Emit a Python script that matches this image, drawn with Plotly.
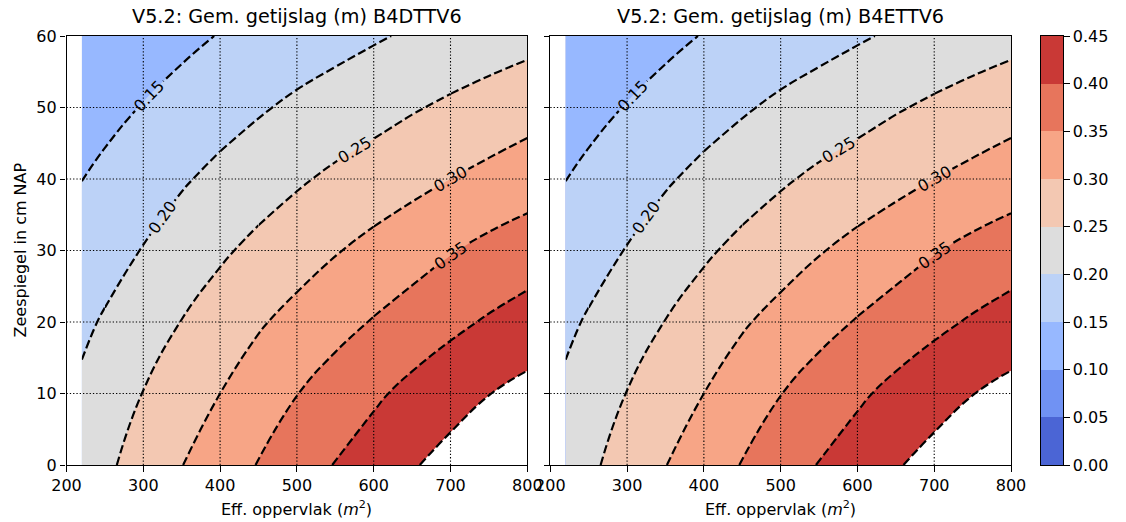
import plotly.graph_objects as go

# Grid: effective area (m^2) x sea level (cm NAP)
opp_vlak = [220, 250, 300, 350, 400, 450, 500, 550, 600, 650, 700, 750, 800]
zeespiegel = [0, 10, 20, 30, 40, 50, 60]

# Mean tidal range (m), one row per sea level
getijslag_b4dttv6 = [
    [0.222, 0.241, 0.270, 0.299, 0.326, 0.352, 0.377, 0.402, 0.424, 0.446, 0.466, 0.487, 0.507],
    [0.209, 0.225, 0.251, 0.275, 0.300, 0.325, 0.349, 0.372, 0.392, 0.413, 0.431, 0.449, 0.464],
    [0.190, 0.205, 0.228, 0.251, 0.273, 0.295, 0.315, 0.334, 0.353, 0.371, 0.389, 0.405, 0.420],
    [0.167, 0.180, 0.202, 0.223, 0.243, 0.262, 0.279, 0.297, 0.314, 0.330, 0.347, 0.363, 0.375],
    [0.1495, 0.160, 0.178, 0.195, 0.212, 0.228, 0.244, 0.259, 0.272, 0.286, 0.300, 0.313, 0.327],
    [0.127, 0.137, 0.152, 0.167, 0.181, 0.195, 0.209, 0.221, 0.233, 0.246, 0.258, 0.269, 0.280],
    [0.107, 0.114, 0.127, 0.139, 0.152, 0.162, 0.173, 0.184, 0.195, 0.206, 0.216, 0.226, 0.235],
]
getijslag_b4ettv6 = [row[:] for row in getijslag_b4dttv6]

titels = ["V5.2: Gem. getijslag (m) B4DTTV6", "V5.2: Gem. getijslag (m) B4ETTV6"]

# Contour levels 0.00 .. 0.45 step 0.05
lvl_start, lvl_end, lvl_step = 0.0, 0.45, 0.05
n_bands = 9
band_colors = ["#4b65d5", "#7092f3", "#97b8ff", "#bcd2f7", "#dddddd",
               "#f3c8b2", "#f7a586", "#e7755c", "#c93936"]

# Labelled levels and the stretch of the area axis on which each label sits
label_levels = [0.15, 0.20, 0.25, 0.30, 0.35]
label_span = {0.15: (220, 400), 0.20: (250, 400), 0.25: (450, 700),
              0.30: (600, 800), 0.35: (600, 800)}
plain_levels = [0.40, 0.45]

# Discrete colour scale: slot 0 = below 0, slots 1..9 = bands, slot 10 = above 0.45 (blank)
slots = [band_colors[0]] + band_colors + ["#ffffff"]
colorscale = []
for k, c in enumerate(slots):
    colorscale.append([max(0.0, (k - 0.5) / 10), c])
    colorscale.append([min(1.0, (k + 0.5) / 10), c])

FONT = "DejaVu Sans"
W, H = 1126, 522
FS = 16
FS_TITLE = 19.2
SMOOTH = 1.3
DASH = dict(color="black", width=2.2, dash="8.5px,3.6px", smoothing=SMOOTH)


def column_slice(z, i0, i1):
    return opp_vlak[i0:i1 + 1], [row[i0:i1 + 1] for row in z]


def level_line(fig, xs, z, level, xa, ya, labelled):
    fig.add_trace(go.Contour(
        x=xs, y=zeespiegel, z=z, xaxis=xa, yaxis=ya,
        showscale=False, hoverinfo="skip",
        contours=dict(start=level, end=level + 0.001, size=lvl_step, coloring="none",
                      showlabels=labelled, labelformat=".2f",
                      labelfont=dict(family=FONT, size=FS, color="black")),
        line=DASH,
    ))


fig = go.Figure()

panels = [("x", "y", getijslag_b4dttv6), ("x2", "y2", getijslag_b4ettv6)]
for xa, ya, z in panels:
    fig.add_trace(go.Contour(
        x=opp_vlak, y=zeespiegel, z=z, xaxis=xa, yaxis=ya,
        colorscale=colorscale, showscale=False, hoverinfo="skip",
        contours=dict(start=lvl_start, end=lvl_end, size=lvl_step,
                      coloring="fill", showlines=False),
        line=dict(width=0, smoothing=SMOOTH),
    ))
    last = len(opp_vlak) - 1
    for lev in label_levels:
        i0 = opp_vlak.index(label_span[lev][0])
        i1 = opp_vlak.index(label_span[lev][1])
        for a, b, lab in [(0, i0, False), (i0, i1, True), (i1, last, False)]:
            if b > a:
                xs, zs = column_slice(z, a, b)
                level_line(fig, xs, zs, lev, xa, ya, lab)
    for lev in plain_levels:
        level_line(fig, opp_vlak, z, lev, xa, ya, False)

# Colour bar drawn as a one-column heatmap of the bands
band_mid = [lvl_start + lvl_step * (i + 0.5) for i in range(n_bands)]
fig.add_trace(go.Heatmap(
    x=[0], y=band_mid, z=[[m] for m in band_mid], xaxis="x3", yaxis="y3",
    colorscale=colorscale, zmin=lvl_start - lvl_step / 2, zmax=lvl_end + lvl_step / 2,
    showscale=False, hoverinfo="skip",
))

ytop, ybot = 1 - 36 / H, 1 - 465 / H
xd1 = [66.5 / W, 527.3 / W]
xd2 = [550.3 / W, 1011.0 / W]
xd3 = [1041 / W, 1063 / W]

x_ticks = [200, 300, 400, 500, 600, 700, 800]
y_ticks = [0, 10, 20, 30, 40, 50, 60]
cb_ticks = [round(lvl_start + lvl_step * i, 2) for i in range(n_bands + 1)]

tickfont = dict(family=FONT, size=FS, color="black")
axis_common = dict(showline=True, mirror=True, linecolor="black", linewidth=1.2,
                   ticks="outside", ticklen=5.5, tickwidth=1.2, tickcolor="black",
                   showgrid=False, zeroline=False, tickfont=tickfont, automargin=False)

fig.update_layout(
    width=W, height=H, margin=dict(l=0, r=0, t=0, b=0),
    paper_bgcolor="white", plot_bgcolor="white", showlegend=False,
    font=dict(family=FONT, color="black"),
    xaxis=dict(domain=xd1, range=[200, 800], tickvals=x_ticks, anchor="y", **axis_common),
    yaxis=dict(domain=[ybot, ytop], range=[0, 60], tickvals=y_ticks, anchor="x", **axis_common),
    xaxis2=dict(domain=xd2, range=[200, 800], tickvals=x_ticks, anchor="y2", **axis_common),
    yaxis2=dict(domain=[ybot, ytop], range=[0, 60], tickvals=y_ticks, anchor="x2",
                showticklabels=False, **axis_common),
    xaxis3=dict(domain=xd3, range=[-0.5, 0.5], anchor="y3", showline=True, mirror=True,
                linecolor="black", linewidth=1.2, ticks="", showticklabels=False,
                showgrid=False, zeroline=False, automargin=False),
    yaxis3=dict(domain=[ybot, ytop], range=[lvl_start, lvl_end], anchor="x3", side="right",
                tickvals=cb_ticks, ticktext=[f"{v:.2f}" for v in cb_ticks], **axis_common),
)

# Dotted grid above the filled contours
grid_line = dict(color="black", width=1.1, dash="1.3px,2px")
shapes = []
for xa, ya in [("x", "y"), ("x2", "y2")]:
    for xv in x_ticks[1:-1]:
        shapes.append(dict(type="line", xref=xa, yref=f"{ya} domain", x0=xv, x1=xv, y0=0, y1=1,
                           line=grid_line, layer="above"))
    for yv in y_ticks[1:-1]:
        shapes.append(dict(type="line", xref=f"{xa} domain", yref=ya, x0=0, x1=1, y0=yv, y1=yv,
                           line=grid_line, layer="above"))
fig.update_layout(shapes=shapes)

# Panel titles and axis titles
for dom, titel in zip([xd1, xd2], titels):
    xc = (dom[0] + dom[1]) / 2
    fig.add_annotation(text=titel, xref="paper", yref="paper", x=xc,
                       y=1 - 16 / H, xanchor="center", yanchor="middle", showarrow=False,
                       font=dict(family=FONT, size=FS_TITLE, color="black"))
    fig.add_annotation(text="Eff. oppervlak (<i>m</i><sup>2</sup>)", xref="paper", yref="paper",
                       x=xc, y=1 - 508 / H, xanchor="center", yanchor="middle", showarrow=False,
                       font=dict(family=FONT, size=FS, color="black"))
fig.add_annotation(text="Zeespiegel in cm NAP", xref="paper", yref="paper", x=20 / W,
                   y=1 - 250.5 / H, xanchor="center", yanchor="middle", textangle=-90,
                   showarrow=False, font=dict(family=FONT, size=FS, color="black"))

fig.write_html("out.html")
